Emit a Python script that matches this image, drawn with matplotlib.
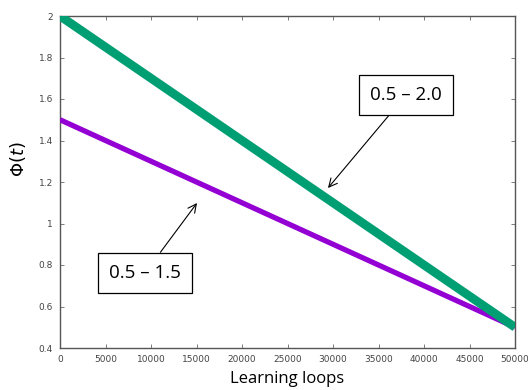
import matplotlib
matplotlib.use("Agg")
import matplotlib.pyplot as plt

loops = [0, 50000]
phi_20 = [2.0, 0.5]
phi_15 = [1.5, 0.5]
xticks = list(range(0, 50001, 5000))
yticks = [0.4, 0.6, 0.8, 1.0, 1.2, 1.4, 1.6, 1.8, 2.0]
ytick_labels = ["0.4", "0.6", "0.8", "1", "1.2", "1.4", "1.6", "1.8", "2"]

fig = plt.figure(figsize=(5.28, 3.9), dpi=100)
ax = fig.add_axes([60/528, 1-348/390, (515-60)/528, (348-16)/390])

ax.plot(loops, phi_15, color="#9400d3", lw=3.8, solid_capstyle="butt", zorder=3)
ax.plot(loops, phi_20, color="#009e73", lw=6.3, solid_capstyle="butt", zorder=4)

ax.set_xlim(0, 50000)
ax.set_ylim(0.4, 2.0)
ax.set_xticks(xticks)
ax.set_xticklabels([str(v) for v in xticks])
ax.set_yticks(yticks)
ax.set_yticklabels(ytick_labels)
ax.tick_params(direction="in", top=True, right=True, length=3, width=0.6,
               labelsize=6.5, labelcolor="#444444", color="#666666", pad=5)
for s in ax.spines.values():
    s.set_color("#555555")
    s.set_linewidth(1.0)

ax.set_xlabel("Learning loops", fontsize=12, family="Open Sans", labelpad=5)
ax.set_ylabel(r"$\Phi(t)$", fontsize=13)
ax.yaxis.set_label_coords(-0.07, 0.57)

bbox = dict(boxstyle="square,pad=0.6", fc="white", ec="black", lw=0.9)
ax.annotate("0.5 – 2.0", xy=(328, 390-188), xycoords="figure pixels",
            xytext=(406, 390-95), textcoords="figure pixels",
            ha="center", va="center", fontsize=13.5, family="Open Sans",
            bbox=bbox, zorder=6,
            arrowprops=dict(arrowstyle="->", color="black", lw=0.8,
                            mutation_scale=15, shrinkA=0, shrinkB=0))
ax.annotate("0.5 – 1.5", xy=(197, 390-203), xycoords="figure pixels",
            xytext=(145, 390-273), textcoords="figure pixels",
            ha="center", va="center", fontsize=13.5, family="Open Sans",
            bbox=bbox, zorder=6,
            arrowprops=dict(arrowstyle="->", color="black", lw=0.8,
                            mutation_scale=15, shrinkA=0, shrinkB=0))

fig.savefig("out.png", dpi=100)
